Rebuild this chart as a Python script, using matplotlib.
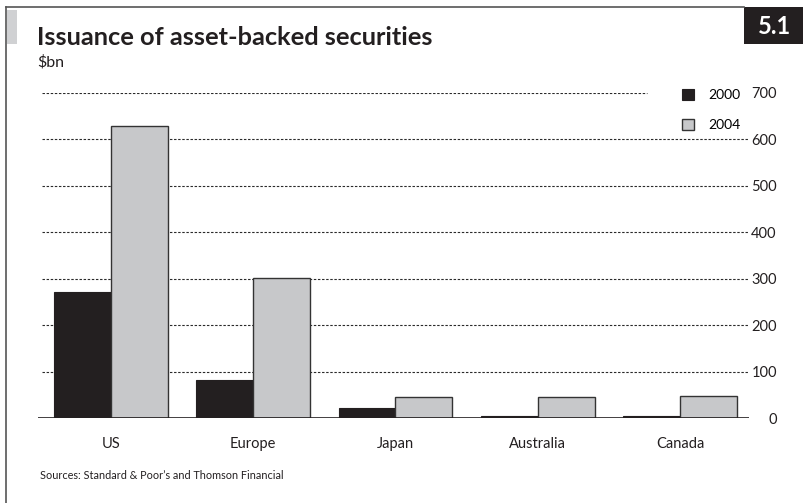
import numpy as np
import matplotlib.pyplot as plt
from matplotlib.patches import Rectangle
from matplotlib.lines import Line2D

# Issuance of asset-backed securities, $bn
regions = ['US', 'Europe', 'Japan', 'Australia', 'Canada']
issuance_2000 = [271, 82, 21, 4, 5]
issuance_2004 = [629, 301, 45, 46, 48]
y_ticks = [0, 100, 200, 300, 400, 500, 600, 700]

dark = '#231f20'
light = '#c7c8ca'
font = 'Lato'

W, H = 804, 503
fig = plt.figure(figsize=(W / 100, H / 100), dpi=100)

def fx(px):
    return px / W

def fy(py):
    return 1 - py / H

# frame lines, grey tab on the left and number box
fig.add_artist(Line2D([fx(6), fx(744)], [fy(7), fy(7)], color='#555555', lw=1.2))
fig.add_artist(Line2D([fx(6), fx(6)], [fy(7), fy(503)], color='#555555', lw=1.2))
fig.add_artist(Rectangle((fx(7), fy(44)), fx(10), fy(10) - fy(44), color='#d0d1d3', lw=0))
fig.add_artist(Rectangle((fx(744), fy(44)), fx(60), fy(7) - fy(44), color=dark, lw=0))
fig.text(fx(775), fy(26), '5.1', color='white', fontsize=17, fontweight='bold',
         family=font, ha='center', va='center')

fig.text(fx(37), fy(45), 'Issuance of asset-backed securities', fontsize=18.3,
         fontweight='bold', family=font, color=dark, va='baseline')
fig.text(fx(37), fy(66), '$bn', fontsize=11.5, family=font, color=dark, va='baseline')
fig.text(fx(40), fy(479), 'Sources: Standard & Poor\u2019s and Thomson Financial',
         fontsize=7.8, family=font, color=dark, va='baseline')

ax = fig.add_axes([fx(38), fy(418), fx(749) - fx(38), fy(93) - fy(418)])

x = np.arange(len(regions))
w = 0.4
ax.bar(x - w / 2, issuance_2000, w, color=dark, edgecolor=dark, lw=0.8,
       label='2000', zorder=3)
ax.bar(x + w / 2, issuance_2004, w, color=light, edgecolor='#333333', lw=1.0,
       label='2004', zorder=3)

ax.set_xlim(-0.513, 4.485)
ax.set_ylim(0, 700)

for t in y_ticks[1:]:
    xmax = 0.857 if t == 700 else 1.0
    ax.axhline(t, xmin=0.006, xmax=xmax, color='#2a2a2a', lw=0.8,
               ls=(0, (2.2, 1.5)), zorder=1)
ax.axhline(0, color=dark, lw=1.2, zorder=4)

for s in ax.spines.values():
    s.set_visible(False)

ax.set_xticks(x)
ax.set_xticklabels(regions, family=font, fontsize=10.5, color=dark)
ax.tick_params(axis='x', length=0, pad=14)

ax.yaxis.tick_right()
ax.set_yticks(y_ticks)
ax.set_yticklabels([str(t) for t in y_ticks], family=font, fontsize=10.5, color=dark,
                   ha='right')
ax.tick_params(axis='y', length=0, pad=20)

ax.legend(loc='upper left', bbox_to_anchor=(fx(676 - 38) / (fx(749) - fx(38)), 1.03),
          frameon=False, handlelength=0.9, handleheight=0.9, handletextpad=1.0,
          labelspacing=1.25, prop={'family': font, 'size': 10}, borderaxespad=0)

fig.savefig('out.png', dpi=100)
